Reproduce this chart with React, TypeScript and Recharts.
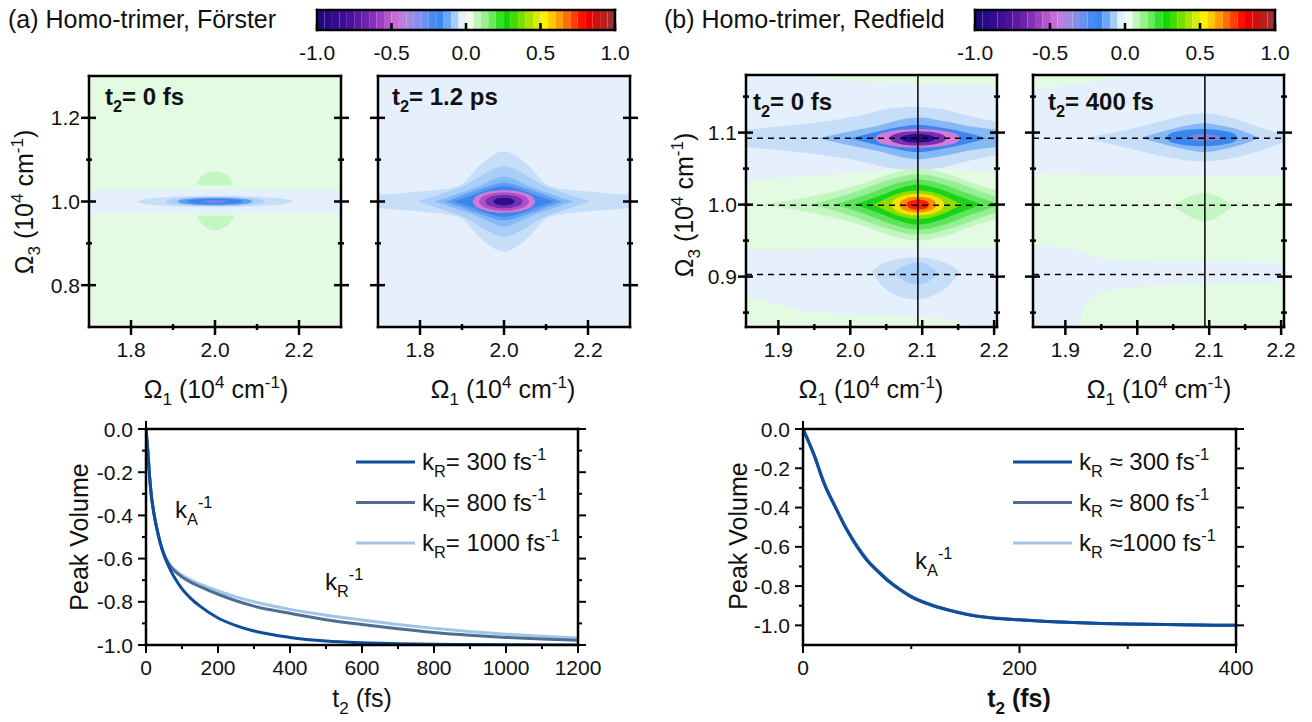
import React from 'react'
import { Area, ComposedChart, Legend, Line, XAxis, YAxis } from 'recharts'

const FONT = '"Liberation Sans", Arial, Helvetica, sans-serif'

// colour bar, 40 steps of 0.05 from -1 to 1
const cbColors = [
  '#1e0a7e', '#28098a', '#330c90', '#3e0e96', '#4a129c', '#5a18a4', '#6e22ae', '#8430b8',
  '#9c40c2', '#b456cc', '#c86cd6', '#bb80de', '#a08ae2', '#8a90ea', '#6a90f0', '#4a8af4',
  '#3a88f6', '#6aaaf6', '#a6cdf9', '#e4f0fd', '#eefdee', '#c0f6bc', '#98f08e', '#68ea5a',
  '#34e028', '#10d800', '#40dc00', '#78e000', '#a8e400', '#d8ec00', '#fff000', '#ffc800',
  '#ff9c00', '#ff7000', '#ff4000', '#ff1000', '#ec0000', '#d01010', '#b82020', '#a42c2c',
]
const cbTicks = [-1, -0.5, 0, 0.5, 1]

// contour level fills
const LEVEL: Record<string, string> = {
  nb: '#e5f0fc', pg: '#e3fae3',
  b1: '#c7def9', b2: '#a9cef7', b3: '#86b8f5', b4: '#5e9ef2', b5: '#3b86ee',
  lv: '#7d82e2', pk: '#d47ad8', mg: '#b050c6', pu: '#7330b0', nv: '#2c0c8c',
  g1: '#c3f6c0', g2: '#98ee94', g3: '#5ee45a', g4: '#18d418', yg: '#8edc00',
  ye: '#f2e400', or: '#ff8c00', rd: '#ff1e00',
}

type Ring = { lv: string; x: number[]; lo: number[]; hi: number[] }
const band = (lv: string, x: number[], lo: number[], hi: number[]): Ring => ({ lv, x, lo, hi })
const ring = (lv: string, cy: number, x: number[], h: number[]): Ring => ({
  lv,
  x,
  lo: h.map((d) => cy - d),
  hi: h.map((d) => cy + d),
})

// (a) Förster, t2 = 0 fs
const forster0: Ring[] = [
  band('pg', [1.7, 2.3], [0.7, 0.7], [1.3, 1.3]),
  band('nb', [1.7, 2.3], [0.973, 0.973], [1.029, 1.029]),
  band('g1', [1.955, 1.97, 2.0, 2.03, 2.042], [1.04, 1.039, 1.039, 1.039, 1.04], [1.04, 1.062, 1.072, 1.062, 1.04]),
  band('g1', [1.957, 1.972, 2.0, 2.03, 2.046], [0.966, 0.944, 0.931, 0.944, 0.966], [0.966, 0.966, 0.966, 0.966, 0.966]),
  ring('b1', 1.0, [1.814, 1.833, 1.87, 1.926, 2.0, 2.074, 2.13, 2.167, 2.186], [0, 0.006, 0.0095, 0.0125, 0.0135, 0.0125, 0.0095, 0.006, 0]),
  ring('b2', 1.0, [1.881, 1.893, 1.917, 1.952, 2.0, 2.048, 2.083, 2.107, 2.119], [0, 0.0048, 0.0077, 0.01, 0.011, 0.01, 0.0077, 0.0048, 0]),
  ring('b4', 1.0, [1.91, 1.919, 1.937, 1.964, 2.0, 2.036, 2.063, 2.081, 2.09], [0, 0.004, 0.0064, 0.0083, 0.009, 0.0083, 0.0064, 0.004, 0]),
  ring('b5', 1.0, [1.932, 1.939, 1.952, 1.973, 2.0, 2.027, 2.048, 2.061, 2.068], [0, 0.0029, 0.0046, 0.006, 0.0065, 0.006, 0.0046, 0.0029, 0]),
  ring('lv', 1.0, [1.972, 1.975, 1.981, 1.989, 2.0, 2.011, 2.019, 2.025, 2.028], [0, 0.0016, 0.0025, 0.0033, 0.0036, 0.0033, 0.0025, 0.0016, 0]),
]

// (a) Förster, t2 = 1.2 ps
const forster1200: Ring[] = [
  band('nb', [1.7, 2.3], [0.7, 0.7], [1.3, 1.3]),
  ring('b1', 1.0, [1.7, 1.8, 1.89, 1.94, 1.975, 2.0, 2.025, 2.06, 2.11, 2.2, 2.3],
    [0.016, 0.024, 0.036, 0.084, 0.112, 0.12, 0.112, 0.084, 0.036, 0.024, 0.016]),
  ring('b2', 1.0, [1.795, 1.85, 1.91, 1.96, 2.0, 2.04, 2.09, 2.15, 2.205], [0, 0.018, 0.04, 0.07, 0.085, 0.07, 0.04, 0.018, 0]),
  ring('b3', 1.0, [1.835, 1.88, 1.93, 1.97, 2.0, 2.03, 2.07, 2.12, 2.165], [0, 0.015, 0.032, 0.05, 0.06, 0.05, 0.032, 0.015, 0]),
  ring('b4', 1.0, [1.86, 1.9, 1.95, 2.0, 2.05, 2.1, 2.14], [0, 0.014, 0.032, 0.045, 0.032, 0.014, 0]),
  ring('b5', 1.0, [1.88, 1.92, 1.96, 2.0, 2.04, 2.08, 2.12], [0, 0.013, 0.028, 0.037, 0.028, 0.013, 0]),
  ring('pk', 1.0, [1.925, 1.933, 1.948, 1.97, 2.0, 2.03, 2.052, 2.067, 2.075], [0, 0.012, 0.019, 0.025, 0.027, 0.025, 0.019, 0.012, 0]),
  ring('mg', 1.0, [1.94, 1.946, 1.958, 1.976, 2.0, 2.024, 2.042, 2.054, 2.06], [0, 0.0097, 0.0156, 0.0202, 0.022, 0.0202, 0.0156, 0.0097, 0]),
  ring('pu', 1.0, [1.955, 1.9595, 1.9685, 1.982, 2.0, 2.018, 2.0315, 2.0405, 2.045], [0, 0.007, 0.0114, 0.0147, 0.016, 0.0147, 0.0114, 0.007, 0]),
  ring('nv', 1.0, [1.975, 1.9775, 1.9825, 1.99, 2.0, 2.01, 2.0175, 2.0225, 2.025], [0, 0.004, 0.0064, 0.0083, 0.009, 0.0083, 0.0064, 0.004, 0]),
]

// (b) Redfield, t2 = 0 fs
const redfield0: Ring[] = [
  band('nb', [1.855, 2.204], [0.83, 0.83], [1.18, 1.18]),
  band('pg', [1.93, 2.0, 2.1, 2.204], [1.18, 1.172, 1.168, 1.166], [1.18, 1.18, 1.18, 1.18]),
  band('pg', [1.855, 1.95, 2.05, 2.094, 2.15, 2.204], [0.937, 0.938, 0.94, 0.94, 0.94, 0.94], [1.034, 1.04, 1.048, 1.05, 1.048, 1.045]),
  band('pg', [1.855, 1.9, 1.95, 2.05, 2.13, 2.17], [0.83, 0.83, 0.83, 0.83, 0.83, 0.83], [0.872, 0.862, 0.85, 0.846, 0.842, 0.83]),
  ring('b1', 1.092, [1.855, 1.875, 1.945, 2.015, 2.06, 2.094, 2.13, 2.17, 2.204], [0.012, 0.014, 0.021, 0.032, 0.042, 0.044, 0.04, 0.03, 0.023]),
  ring('b3', 1.092, [1.955, 2.0, 2.04, 2.07, 2.094, 2.13, 2.17, 2.204], [0, 0.01, 0.018, 0.026, 0.029, 0.024, 0.016, 0.012]),
  ring('b5', 1.092, [2.0, 2.04, 2.07, 2.094, 2.12, 2.16, 2.19], [0, 0.01, 0.016, 0.019, 0.016, 0.008, 0]),
  ring('pk', 1.092, [2.034, 2.04, 2.052, 2.07, 2.094, 2.118, 2.136, 2.148, 2.154], [0, 0.0057, 0.0092, 0.012, 0.013, 0.012, 0.0092, 0.0057, 0]),
  ring('pu', 1.092, [2.054, 2.058, 2.066, 2.078, 2.094, 2.11, 2.122, 2.13, 2.134], [0, 0.0044, 0.0071, 0.0092, 0.01, 0.0092, 0.0071, 0.0044, 0]),
  ring('nv', 1.092, [2.07, 2.0724, 2.0772, 2.0844, 2.094, 2.1036, 2.1108, 2.1156, 2.118], [0, 0.0026, 0.0043, 0.0055, 0.006, 0.0055, 0.0043, 0.0026, 0]),
  ring('g1', 1.0, [1.876, 1.95, 2.02, 2.06, 2.094, 2.13, 2.17, 2.24, 2.31], [0, 0.012, 0.03, 0.044, 0.05, 0.044, 0.03, 0.012, 0]),
  ring('g2', 1.0, [1.945, 2.0, 2.05, 2.094, 2.14, 2.19, 2.243], [0, 0.015, 0.033, 0.042, 0.033, 0.015, 0]),
  ring('g3', 1.0, [1.978, 2.02, 2.06, 2.094, 2.13, 2.17, 2.21], [0, 0.013, 0.028, 0.035, 0.028, 0.013, 0]),
  ring('g4', 1.0, [2.005, 2.04, 2.07, 2.094, 2.12, 2.15, 2.183], [0, 0.012, 0.023, 0.028, 0.023, 0.012, 0]),
  ring('yg', 1.0, [2.033, 2.06, 2.094, 2.128, 2.155], [0, 0.013, 0.02, 0.013, 0]),
  ring('ye', 1.0, [2.057, 2.0607, 2.0681, 2.0792, 2.094, 2.1088, 2.1199, 2.1273, 2.131], [0, 0.0066, 0.0107, 0.0138, 0.015, 0.0138, 0.0107, 0.0066, 0]),
  ring('or', 1.0, [2.068, 2.0706, 2.0758, 2.0836, 2.094, 2.1044, 2.1122, 2.1174, 2.12], [0, 0.0048, 0.0078, 0.0101, 0.011, 0.0101, 0.0078, 0.0048, 0]),
  ring('rd', 1.0, [2.078, 2.0796, 2.0828, 2.0876, 2.094, 2.1004, 2.1052, 2.1084, 2.11], [0, 0.0031, 0.005, 0.0064, 0.007, 0.0064, 0.005, 0.0031, 0]),
  band('b1', [2.03, 2.05, 2.09, 2.13, 2.152], [0.907, 0.882, 0.868, 0.882, 0.907], [0.907, 0.92, 0.927, 0.92, 0.907]),
  band('b2', [2.06, 2.075, 2.094, 2.11, 2.122], [0.906, 0.894, 0.889, 0.894, 0.906], [0.906, 0.915, 0.92, 0.915, 0.906]),
]

// (b) Redfield, t2 = 400 fs
const redfield400: Ring[] = [
  band('nb', [1.855, 2.204], [0.83, 0.83], [1.18, 1.18]),
  band('pg', [1.855, 1.9, 1.95, 2.0], [1.16, 1.165, 1.172, 1.18], [1.18, 1.18, 1.18, 1.18]),
  band('pg', [1.855, 1.9, 1.97, 2.1, 2.204], [0.944, 0.94, 0.922, 0.92, 0.919], [1.044, 1.043, 1.041, 1.04, 1.04]),
  band('pg', [1.92, 1.925, 1.94, 1.98, 2.05, 2.204], [0.83, 0.83, 0.83, 0.83, 0.83, 0.83], [0.83, 0.855, 0.872, 0.884, 0.889, 0.892]),
  band('b1', [1.934, 1.99, 2.04, 2.09, 2.14, 2.18, 2.204], [1.09, 1.078, 1.066, 1.06, 1.066, 1.078, 1.087], [1.094, 1.105, 1.118, 1.127, 1.118, 1.104, 1.097]),
  ring('b3', 1.093, [2.005, 2.04, 2.07, 2.094, 2.12, 2.15, 2.17], [0, 0.01, 0.017, 0.02, 0.016, 0.008, 0]),
  ring('b5', 1.093, [2.04, 2.045, 2.055, 2.07, 2.09, 2.11, 2.125, 2.135, 2.14], [0, 0.0053, 0.0085, 0.011, 0.012, 0.011, 0.0085, 0.0053, 0]),
  ring('lv', 1.093, [2.071, 2.0732, 2.0776, 2.0842, 2.093, 2.1018, 2.1084, 2.1128, 2.115], [0, 0.0022, 0.0036, 0.0046, 0.005, 0.0046, 0.0036, 0.0022, 0]),
  band('g1', [2.048, 2.07, 2.094, 2.115, 2.135], [0.998, 0.985, 0.977, 0.985, 0.998], [0.998, 1.01, 1.016, 1.01, 0.998]),
]

const fDomX = [1.7, 2.3]
const fDomY = [0.7, 1.3]
const fxMajor = [1.8, 2.0, 2.2]
const fxMinor = [1.9, 2.1]
const fyMajor = [0.8, 1.0, 1.2]
const fyMinor = [0.9, 1.1]

const rDomX = [1.855, 2.204]
const rDomY = [0.83, 1.18]
const rxMajor = [1.9, 2.0, 2.1, 2.2]
const rxMinor = [1.95, 2.05, 2.15]
const ryMajor = [0.9, 1.0, 1.1]
const ryMinor = [0.85, 0.95, 1.05, 1.15]
const rDashed = [1.092, 0.999, 0.903]
const rDiag = 2.094

// peak volume decays
const tA = [0, 5, 10, 15, 20, 30, 40, 50, 60, 70, 80, 100, 125, 150, 200, 250, 300, 400, 500, 600, 700, 800, 900, 1000, 1100, 1200]
const a300 = [0, -0.1, -0.22, -0.31, -0.37, -0.46, -0.53, -0.585, -0.625, -0.66, -0.69, -0.74, -0.785, -0.82, -0.875, -0.91, -0.935, -0.965, -0.982, -0.99, -0.994, -0.997, -0.998, -0.999, -1.0, -1.0]
const a800 = [0, -0.1, -0.22, -0.31, -0.37, -0.46, -0.53, -0.58, -0.615, -0.64, -0.658, -0.685, -0.71, -0.73, -0.765, -0.795, -0.82, -0.853, -0.883, -0.905, -0.925, -0.942, -0.955, -0.965, -0.972, -0.978]
const a1000 = [0, -0.1, -0.22, -0.31, -0.37, -0.46, -0.53, -0.578, -0.612, -0.636, -0.652, -0.677, -0.7, -0.718, -0.75, -0.777, -0.8, -0.835, -0.862, -0.884, -0.905, -0.923, -0.938, -0.95, -0.96, -0.968]

const tB = [0, 10, 20, 30, 40, 50, 60, 70, 80, 90, 100, 120, 140, 160, 180, 200, 225, 250, 275, 300, 350, 400]
const b300 = [0, -0.13, -0.285, -0.4, -0.51, -0.6, -0.675, -0.73, -0.78, -0.82, -0.855, -0.9, -0.93, -0.953, -0.965, -0.972, -0.98, -0.986, -0.99, -0.993, -0.997, -1.0]
const b800 = [0, -0.128, -0.282, -0.398, -0.507, -0.598, -0.672, -0.728, -0.778, -0.818, -0.853, -0.898, -0.929, -0.952, -0.964, -0.972, -0.98, -0.986, -0.99, -0.993, -0.997, -1.0]
const b1000 = [0, -0.125, -0.278, -0.395, -0.503, -0.594, -0.668, -0.725, -0.775, -0.815, -0.851, -0.897, -0.928, -0.951, -0.964, -0.971, -0.979, -0.986, -0.99, -0.993, -0.997, -1.0]

const aXMajor = [0, 200, 400, 600, 800, 1000, 1200]
const aXMinor = [100, 300, 500, 700, 900, 1100]
const bXMajor = [0, 200, 400]
const bXMinor = [100, 300]
const pvMajor = [0, -0.2, -0.4, -0.6, -0.8, -1.0]
const pvMinor = [-0.1, -0.3, -0.5, -0.7, -0.9]

const rates = ['300', '800', '1000']
const rateSepA = ['= ', '= ', '= ']
const rateSepB = [' \u2248 ', ' \u2248 ', ' \u2248']
const lineColors = ['#0f4c9c', '#4e6d92', '#a2c4e8']

type Seg = [string, string?]

function Rich({ x, y, segs, size, bold, anchor, rotate }: any) {
  let cur = 0
  return (
    <text
      x={x}
      y={y}
      fontSize={size}
      fontFamily={FONT}
      fontWeight={bold ? 700 : 400}
      textAnchor={anchor || 'start'}
      fill="#111"
      transform={rotate ? `rotate(-90 ${x} ${y})` : undefined}
    >
      {segs.map(([t, k]: Seg, i: number) => {
        const target = k === 'sub' ? size * 0.28 : k === 'sup' ? -size * 0.42 : 0
        const dy = target - cur
        cur = target
        return (
          <tspan key={i} dy={dy} fontSize={k ? size * 0.68 : size}>
            {t}
          </tspan>
        )
      })}
    </text>
  )
}

const makeTick = (o: any) => (props: any) => {
  const { x, y, payload } = props
  const v = payload.value
  const major = o.majors.some((m: number) => Math.abs(m - v) < 1e-6)
  const a = major ? o.inMaj : o.inMin
  const b = major ? o.outMaj : o.outMin
  const s =
    o.side === 'bottom' ? [x, y - a, x, y + b]
      : o.side === 'top' ? [x, y + a, x, y - b]
        : o.side === 'left' ? [x + a, y, x - b, y]
          : [x - a, y, x + b, y]
  return (
    <g>
      <line x1={s[0]} y1={s[1]} x2={s[2]} y2={s[3]} stroke="#000" strokeWidth={o.w || 2.5} />
      {major && o.label && o.side === 'bottom' && (
        <text x={x} y={y + o.off} textAnchor="middle" fontSize={o.size} fontFamily={FONT} fill="#111">
          {o.fmt(v)}
        </text>
      )}
      {major && o.label && o.side === 'left' && (
        <text x={x - o.off} y={y} dy="0.36em" textAnchor="end" fontSize={o.size} fontFamily={FONT} fill="#111">
          {o.fmt(v)}
        </text>
      )}
    </g>
  )
}

const AX = { stroke: '#000', strokeWidth: 2.5, strokeLinecap: 'square' }
const f1 = (v: number) => (Math.abs(v) < 1e-9 ? '0.0' : v.toFixed(1))
const f0 = (v: number) => String(Math.round(v))

// small closed lobes get a rounder spline
const curveOf = (r: Ring) => {
  if (r.x.length <= 2) return 'linear'
  const n = r.x.length - 1
  const closed = r.lo[0] === r.hi[0] && r.lo[n] === r.hi[n]
  return closed && r.x.length <= 5 ? 'natural' : 'monotone'
}

function ColorBar({ rect }: any) {
  const pad = { l: 26, r: 26, t: 6, b: 36 }
  const W = rect.w + pad.l + pad.r
  const H = rect.h + pad.t + pad.b
  return (
    <div style={{ position: 'absolute', left: rect.x - pad.l, top: rect.y - pad.t, width: W, height: H }}>
      <ComposedChart width={W} height={H} margin={{ top: 0, right: 0, bottom: 0, left: 0 }}>
        {cbColors.map((c, i) => (
          <Area
            key={i}
            data={[
              { x: -1 + i * 0.05, r: [0, 1] },
              { x: -1 + (i + 1) * 0.05, r: [0, 1] },
            ]}
            dataKey="r"
            type="linear"
            fill={c}
            fillOpacity={1}
            stroke={c}
            strokeWidth={1}
            dot={false}
            activeDot={false}
            isAnimationActive={false}
          />
        ))}
        <XAxis
          dataKey="x"
          type="number"
          domain={[-1, 1]}
          allowDataOverflow
          ticks={cbTicks}
          interval={0}
          height={pad.b}
          tickSize={0}
          tickMargin={0}
          tickLine={false}
          axisLine={AX}
          tick={makeTick({ side: 'bottom', majors: cbTicks, inMaj: 7, outMaj: 0, label: true, off: 30, size: 21, fmt: f1 })}
        />
        <XAxis xAxisId="top" orientation="top" type="number" domain={[-1, 1]} allowDataOverflow ticks={[]} height={pad.t} tickLine={false} axisLine={AX} />
        <YAxis type="number" domain={[0, 1]} allowDataOverflow ticks={[]} width={pad.l} tickLine={false} axisLine={AX} />
        <YAxis yAxisId="right" orientation="right" type="number" domain={[0, 1]} allowDataOverflow ticks={[]} width={pad.r} tickLine={false} axisLine={AX} />
      </ComposedChart>
    </div>
  )
}

function HeatMap({ p }: any) {
  const pad = { l: 60, r: 16, t: 16, b: 44 }
  const W = p.rect.w + pad.l + pad.r
  const H = p.rect.h + pad.t + pad.b
  const xt = [...p.xMaj, ...p.xMin].sort((a: number, b: number) => a - b)
  const yt = [...p.yMaj, ...p.yMin].sort((a: number, b: number) => a - b)
  const tk = { inMaj: 7, outMaj: 8, inMin: 3, outMin: 3 }
  return (
    <div style={{ position: 'absolute', left: p.rect.x - pad.l, top: p.rect.y - pad.t, width: W, height: H }}>
      <ComposedChart width={W} height={H} margin={{ top: 0, right: 0, bottom: 0, left: 0 }}>
        {p.rings.map((r: Ring, i: number) => (
          <Area
            key={i}
            data={r.x.map((x, j) => ({ x, r: [r.lo[j], r.hi[j]] }))}
            dataKey="r"
            type={curveOf(r)}
            fill={LEVEL[r.lv]}
            fillOpacity={1}
            stroke="none"
            dot={false}
            activeDot={false}
            isAnimationActive={false}
          />
        ))}
        {(p.dashed || []).map((yv: number, i: number) => (
          <Line
            key={'d' + i}
            data={[
              { x: p.domX[0], y: yv },
              { x: p.domX[1], y: yv },
            ]}
            dataKey="y"
            type="linear"
            stroke="#000"
            strokeWidth={1.5}
            strokeDasharray="6 5"
            dot={false}
            activeDot={false}
            isAnimationActive={false}
          />
        ))}
        {p.diag != null && (
          <Line
            data={[
              { x: p.diag, y: p.domY[0] },
              { x: p.diag, y: p.domY[1] },
            ]}
            dataKey="y"
            type="linear"
            stroke="#000"
            strokeWidth={1.5}
            dot={false}
            activeDot={false}
            isAnimationActive={false}
          />
        )}
        <XAxis
          dataKey="x"
          type="number"
          domain={p.domX}
          allowDataOverflow
          ticks={xt}
          interval={0}
          height={pad.b}
          tickSize={0}
          tickMargin={0}
          tickLine={false}
          axisLine={AX}
          tick={makeTick({ side: 'bottom', majors: p.xMaj, ...tk, label: true, off: 30, size: 21, fmt: f1 })}
        />
        <XAxis
          xAxisId="top"
          orientation="top"
          type="number"
          domain={p.domX}
          allowDataOverflow
          ticks={xt}
          interval={0}
          height={pad.t}
          tickSize={0}
          tickMargin={0}
          tickLine={false}
          axisLine={AX}
          tick={makeTick({ side: 'top', majors: p.xMaj, ...tk })}
        />
        <YAxis
          type="number"
          domain={p.domY}
          allowDataOverflow
          ticks={yt}
          interval={0}
          width={pad.l}
          tickSize={0}
          tickMargin={0}
          tickLine={false}
          axisLine={AX}
          tick={makeTick({ side: 'left', majors: p.yMaj, ...tk, label: p.yLabels, off: 9, size: 21, fmt: f1 })}
        />
        <YAxis
          yAxisId="right"
          orientation="right"
          type="number"
          domain={p.domY}
          allowDataOverflow
          ticks={yt}
          interval={0}
          width={pad.r}
          tickSize={0}
          tickMargin={0}
          tickLine={false}
          axisLine={AX}
          tick={makeTick({ side: 'right', majors: p.yMaj, ...tk })}
        />
      </ComposedChart>
    </div>
  )
}

function KLegend({ payload, seps }: any) {
  return (
    <svg width={320} height={130} style={{ overflow: 'visible' }}>
      {rates.map((r, i) => {
        const entry = (payload || []).find((e: any) => e.value === 'k' + r)
        const cy = 22 + i * 40.5
        return (
          <g key={r}>
            <line x1={0} x2={59} y1={cy} y2={cy} stroke={entry ? entry.color : lineColors[i]} strokeWidth={3} />
            <Rich x={66} y={cy + 8} size={24} segs={[['k'], ['R', 'sub'], [seps[i] + r + ' fs'], ['-1', 'sup']]} />
          </g>
        )
      })}
    </svg>
  )
}

function Decay({ rect, t, vals, domX, domY, xMaj, xMin, seps }: any) {
  const pad = { l: 70, r: 34, t: 16, b: 40 }
  const W = rect.w + pad.l + pad.r
  const H = rect.h + pad.t + pad.b
  const rows = t.map((tt: number, i: number) => ({ t: tt, k300: vals[0][i], k800: vals[1][i], k1000: vals[2][i] }))
  const xt = [...xMaj, ...xMin].sort((a: number, b: number) => a - b)
  const yt = [...pvMajor, ...pvMinor].sort((a, b) => a - b)
  const tk = { inMaj: 0, outMaj: 8, inMin: 0, outMin: 4, w: 2 }
  const order = [2, 1, 0]
  return (
    <div style={{ position: 'absolute', left: rect.x - pad.l, top: rect.y - pad.t, width: W, height: H }}>
      <ComposedChart width={W} height={H} data={rows} margin={{ top: 0, right: 0, bottom: 0, left: 0 }}>
        {order.map((i) => (
          <Line
            key={rates[i]}
            dataKey={'k' + rates[i]}
            name={'k' + rates[i]}
            stroke={lineColors[i]}
            strokeWidth={3}
            type="monotone"
            dot={false}
            activeDot={false}
            isAnimationActive={false}
          />
        ))}
        <XAxis
          dataKey="t"
          type="number"
          domain={domX}
          allowDataOverflow
          ticks={xt}
          interval={0}
          height={pad.b}
          tickSize={0}
          tickMargin={0}
          tickLine={false}
          axisLine={AX}
          tick={makeTick({ side: 'bottom', majors: xMaj, ...tk, label: true, off: 30, size: 21, fmt: f0 })}
        />
        <XAxis
          xAxisId="top"
          orientation="top"
          type="number"
          domain={domX}
          allowDataOverflow
          ticks={xt}
          interval={0}
          height={pad.t}
          tickSize={0}
          tickMargin={0}
          tickLine={false}
          axisLine={AX}
          tick={makeTick({ side: 'top', majors: xMaj, ...tk })}
        />
        <YAxis
          type="number"
          domain={domY}
          allowDataOverflow
          ticks={yt}
          interval={0}
          width={pad.l}
          tickSize={0}
          tickMargin={0}
          tickLine={false}
          axisLine={AX}
          tick={makeTick({ side: 'left', majors: pvMajor, ...tk, label: true, off: 13, size: 21, fmt: f1 })}
        />
        <YAxis
          yAxisId="right"
          orientation="right"
          type="number"
          domain={domY}
          allowDataOverflow
          ticks={yt}
          interval={0}
          width={pad.r}
          tickSize={0}
          tickMargin={0}
          tickLine={false}
          axisLine={AX}
          tick={makeTick({ side: 'right', majors: pvMajor, ...tk })}
        />
        <Legend
          layout="vertical"
          align="center"
          verticalAlign="middle"
          wrapperStyle={{ left: 280, top: 27, width: 320, height: 130 }}
          content={(lp: any) => <KLegend payload={lp.payload} seps={seps} />}
        />
      </ComposedChart>
    </div>
  )
}

const heatPanels = [
  { id: 'f0', rect: { x: 89, y: 76, w: 252, h: 251 }, domX: fDomX, domY: fDomY, xMaj: fxMajor, xMin: fxMinor, yMaj: fyMajor, yMin: fyMinor, yLabels: true, rings: forster0 },
  { id: 'f1', rect: { x: 378, y: 76, w: 252, h: 251 }, domX: fDomX, domY: fDomY, xMaj: fxMajor, xMin: fxMinor, yMaj: fyMajor, yMin: fyMinor, yLabels: false, rings: forster1200 },
  { id: 'r0', rect: { x: 746, y: 75, w: 251, h: 252 }, domX: rDomX, domY: rDomY, xMaj: rxMajor, xMin: rxMinor, yMaj: ryMajor, yMin: ryMinor, yLabels: true, rings: redfield0, dashed: rDashed, diag: rDiag },
  { id: 'r1', rect: { x: 1033, y: 75, w: 251, h: 252 }, domX: rDomX, domY: rDomY, xMaj: rxMajor, xMin: rxMinor, yMaj: ryMajor, yMin: ryMinor, yLabels: false, rings: redfield400, dashed: rDashed, diag: rDiag },
]

const omega1: Seg[] = [['\u03A9'], ['1', 'sub'], [' (10'], ['4', 'sup'], [' cm'], ['-1', 'sup'], [')']]
const omega3: Seg[] = [['\u03A9'], ['3', 'sub'], [' (10'], ['4', 'sup'], [' cm'], ['-1', 'sup'], [')']]
const t2 = (s: string): Seg[] => [['t'], ['2', 'sub'], [s]]
const kA: Seg[] = [['k'], ['A', 'sub'], ['-1', 'sup']]
const kR: Seg[] = [['k'], ['R', 'sub'], ['-1', 'sup']]

export default function App() {
  return (
    <div style={{ position: 'absolute', left: 0, top: 0, width: 1312, height: 722, background: '#fff', fontFamily: FONT, overflow: 'hidden' }}>
      <ColorBar rect={{ x: 317, y: 10, w: 298, h: 20 }} />
      <ColorBar rect={{ x: 975, y: 10, w: 300, h: 20 }} />
      {heatPanels.map((p) => (
        <HeatMap key={p.id} p={p} />
      ))}
      <Decay rect={{ x: 146, y: 429, w: 432, h: 216 }} t={tA} vals={[a300, a800, a1000]} domX={[0, 1200]} domY={[-1, 0]} xMaj={aXMajor} xMin={aXMinor} seps={rateSepA} />
      <Decay rect={{ x: 803, y: 429, w: 433, h: 216 }} t={tB} vals={[b300, b800, b1000]} domX={[0, 400]} domY={[-1.1, 0]} xMaj={bXMajor} xMin={bXMinor} seps={rateSepB} />
      <svg width={1312} height={722} style={{ position: 'absolute', left: 0, top: 0, pointerEvents: 'none' }}>
        <Rich x={8} y={28} size={25} segs={[['(a) Homo-trimer, F\u00f6rster']]} />
        <Rich x={664} y={28} size={25} segs={[['(b) Homo-trimer, Redfield']]} />
        <Rich x={105} y={105} size={24} bold segs={t2('= 0 fs')} />
        <Rich x={392} y={105} size={24} bold segs={t2('= 1.2 ps')} />
        <Rich x={753} y={110} size={24} bold segs={t2('= 0 fs')} />
        <Rich x={1048} y={110} size={24} bold segs={t2('= 400 fs')} />
        <Rich x={216} y={398} size={25} anchor="middle" segs={omega1} />
        <Rich x={503} y={398} size={25} anchor="middle" segs={omega1} />
        <Rich x={871} y={398} size={25} anchor="middle" segs={omega1} />
        <Rich x={1159} y={398} size={25} anchor="middle" segs={omega1} />
        <Rich x={33} y={202} size={25} anchor="middle" rotate segs={omega3} />
        <Rich x={693} y={205} size={25} anchor="middle" rotate segs={omega3} />
        <Rich x={88} y={537} size={25} anchor="middle" rotate segs={[['Peak Volume']]} />
        <Rich x={747} y={536} size={25} anchor="middle" rotate segs={[['Peak Volume']]} />
        <Rich x={362} y={707} size={25} anchor="middle" segs={[['t'], ['2', 'sub'], [' (fs)']]} />
        <Rich x={1019} y={707} size={25} anchor="middle" bold segs={[['t'], ['2', 'sub'], [' (fs)']]} />
        <Rich x={175} y={518} size={24} segs={kA} />
        <Rich x={325} y={590} size={24} segs={kR} />
        <Rich x={915} y={569} size={24} segs={kA} />
      </svg>
    </div>
  )
}
